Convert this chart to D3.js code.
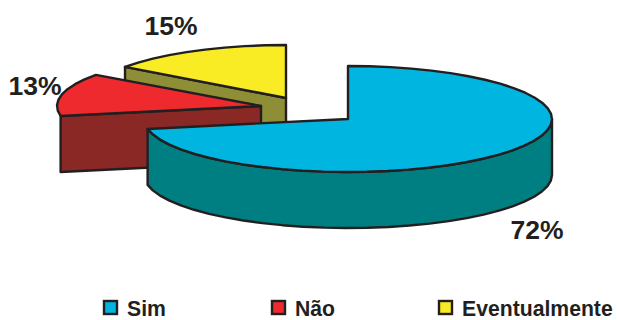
<!DOCTYPE html>
<html>
<head>
<meta charset="utf-8">
<style>
  html, body { margin: 0; padding: 0; background: #fff; }
  text { font-family: "Liberation Sans", Arial, sans-serif; font-weight: bold; fill: #231f20; }
</style>
<script src="https://cdn.jsdelivr.net/npm/d3@7/dist/d3.min.js"></script>
</head>
<body>
<svg id="chart" width="617" height="320"></svg>
<script>
// Survey answers shown as an exploded 3D pie
const categories = ["Sim", "Não", "Eventualmente"];
const shares = [72, 13, 15];
const topColors = ["#00b5e0", "#ee2a2e", "#f9ec24"];
const wallColors = ["#007f82", "#8a2826", "#8e8e36"];

// Each slice has its own apex and width once pulled out of the pie
const sliceCenters = [[348, 119], [261, 106], [286, 98]];
const sliceRadiusX = [204, 204, 199];
const labelPositions = [[537, 239], [35, 95], [171, 35]];
const legendSwatchX = [104, 272, 439];
const legendTextX = [127, 295, 462];

const radiusY = 53, depth = 56;
const ink = "#231f20";

const svg = d3.select("#chart");
const arcs = d3.pie().sort(null).value(d => d)(shares);
const line = d3.line();

// Projects a pie angle (clockwise from the top) onto the tilted ellipse
function project(i, angle, drop = 0) {
  const c = sliceCenters[i];
  return [c[0] + sliceRadiusX[i] * Math.sin(angle),
          c[1] - radiusY * Math.cos(angle) + drop];
}

// Rim of an arc as a faceted polyline, like a traced outline
function rim(i, a0, a1, drop = 0) {
  const steps = Math.max(2, Math.round((a1 - a0) / (Math.PI / 30)));
  return d3.range(steps + 1).map(k => project(i, a0 + (a1 - a0) * k / steps, drop));
}

function shape(points, fill) {
  svg.append("path")
    .attr("d", line(points) + "Z")
    .attr("fill", fill)
    .attr("stroke", ink)
    .attr("stroke-width", 2.4)
    .attr("stroke-linejoin", "round");
}

// Painted back to front: yellow, red, then the large blue slice
[2, 1, 0].forEach(i => {
  const { startAngle: a0, endAngle: a1 } = arcs[i];
  const c = sliceCenters[i];

  if (i === 0) {
    // Outer wall: only the front of the rim faces the viewer
    const upper = rim(i, Math.PI / 2, a1);
    const lower = rim(i, Math.PI / 2, a1, depth).reverse();
    shape(upper.concat(lower), wallColors[i]);
  } else {
    // Cut face along the radius where the slice begins
    const edge = project(i, a0);
    shape([c, edge, [edge[0], edge[1] + depth], [c[0], c[1] + depth]], wallColors[i]);
  }

  shape([c].concat(rim(i, a0, a1)), topColors[i]);
});

// Percentage labels
shares.forEach((v, i) => {
  svg.append("text")
    .attr("x", labelPositions[i][0])
    .attr("y", labelPositions[i][1])
    .attr("text-anchor", "middle")
    .attr("font-size", 26.5)
    .text(v + "%");
});

// Legend
categories.forEach((name, i) => {
  svg.append("rect")
    .attr("x", legendSwatchX[i])
    .attr("y", 301)
    .attr("width", 13)
    .attr("height", 13)
    .attr("fill", topColors[i])
    .attr("stroke", ink)
    .attr("stroke-width", 2.4);
  svg.append("text")
    .attr("x", legendTextX[i])
    .attr("y", 316)
    .attr("font-size", 21.2)
    .text(name);
});
</script>
</body>
</html>
